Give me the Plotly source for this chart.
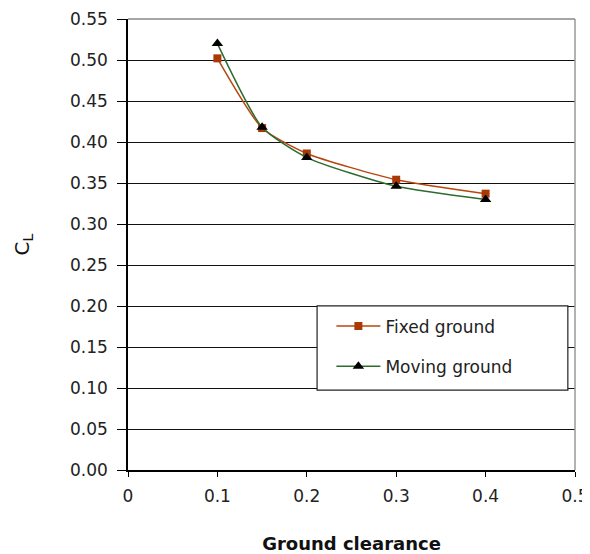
import plotly.graph_objects as go

clearance = [0.1, 0.15, 0.2, 0.3, 0.4]
cl_fixed = [0.502, 0.417, 0.386, 0.354, 0.337]
cl_moving = [0.520, 0.418, 0.381, 0.346, 0.330]
x_ticks = [0, 0.1, 0.2, 0.3, 0.4, 0.5]
x_tick_labels = ["0", "0.1", "0.2", "0.3", "0.4", "0.5"]
y_ticks = [i * 0.05 for i in range(12)]
y_tick_labels = ["%.2f" % v for v in y_ticks]

font = "DejaVu Sans, Verdana, sans-serif"

fig = go.Figure()
fig.add_trace(go.Scatter(
    x=clearance, y=cl_fixed, name="Fixed ground", mode="lines+markers",
    line=dict(color="#B8460E", width=1.5, shape="spline", smoothing=0.6),
    marker=dict(symbol="square", size=8, color="#A93A06"),
    legendgroup="a"))
fig.add_trace(go.Scatter(
    x=clearance, y=cl_moving, name="Moving ground", mode="lines+markers",
    line=dict(color="#2E6B2E", width=1.5, shape="spline", smoothing=0.6),
    marker=dict(symbol="triangle-up", size=10, color="black"),
    legendgroup="b"))

fig.update_layout(
    width=582, height=546,
    margin=dict(l=120, r=15, t=11, b=84),
    plot_bgcolor="white", paper_bgcolor="white",
    font=dict(family=font, size=17, color="#222"),
    showlegend=True,
    legend=dict(x=0.455, y=0.358, xanchor="left", yanchor="top",
                bgcolor="rgba(0,0,0,0)", borderwidth=0,
                font=dict(size=17, color="#222"), itemwidth=44,
                tracegroupgap=15, traceorder="grouped"),
    xaxis=dict(range=[0, 0.5], tickvals=x_ticks, ticktext=x_tick_labels,
               showgrid=False, zeroline=False, showline=True, linecolor="black",
               linewidth=1.5, ticks="outside", ticklen=5, tickcolor="black",
               ticklabelstandoff=5, automargin=False,
               title=dict(text="<b>Ground clearance</b>",
                          font=dict(size=18, color="#111"), standoff=32)),
    yaxis=dict(range=[0, 0.55], tickvals=y_ticks, ticktext=y_tick_labels,
               showgrid=True, gridcolor="#111", gridwidth=1, zeroline=False,
               showline=True, linecolor="black", linewidth=1.5,
               ticks="outside", ticklen=9, tickcolor="black",
               ticklabelstandoff=6, automargin=False,
               title=dict(text="C<sub>L</sub>", font=dict(size=20, color="#111"),
                          standoff=35)),
)
# top and right border lines of the plot area
fig.add_shape(type="line", xref="paper", yref="paper", x0=1, x1=1, y0=0, y1=1,
              line=dict(color="#999", width=1.5))
fig.add_shape(type="line", xref="paper", yref="paper", x0=0, x1=1, y0=1, y1=1,
              line=dict(color="#888", width=1.5))
# legend frame
fig.add_shape(type="rect", xref="paper", yref="paper", x0=0.423, x1=0.984,
              y0=0.177, y1=0.364, line=dict(color="#222", width=1.2),
              fillcolor="white", layer="above")

fig.write_html("out.html")
